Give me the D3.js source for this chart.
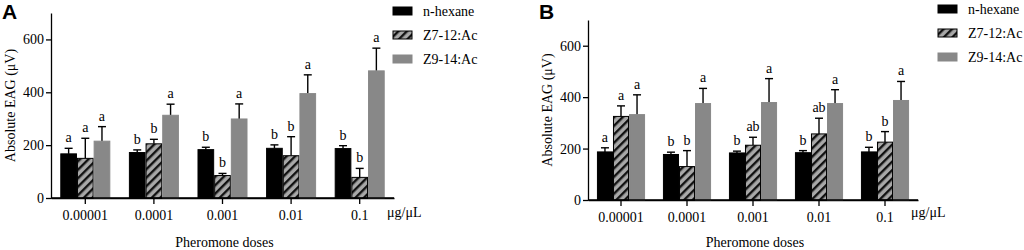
<!DOCTYPE html>
<html>
<head>
<meta charset="utf-8">
<script src="https://cdn.jsdelivr.net/npm/d3@7"></script>
<style>
  body { margin: 0; background: #fff; }
</style>
</head>
<body>
<svg id="chart" width="1024" height="250"></svg>
<script>
// doses on the x axis
const doses = ["0.00001", "0.0001", "0.001", "0.01", "0.1"];
const seriesNames = ["n-hexane", "Z7-12:Ac", "Z9-14:Ac"];
const yTicks = [0, 200, 400, 600];

// panel A: means, error tops, letters
const meanA = [
  [167, 172, 183, 188, 187],
  [150, 205, 85, 160, 78],
  [215, 313, 299, 395, 481]
];
const errA = [
  [188, 182, 192, 201, 198],
  [226, 222, 93, 232, 112],
  [270, 355, 356, 466, 567]
];
const letA = [
  ["a", "b", "b", "b", "b"],
  ["a", "b", "b", "b", "b"],
  ["a", "a", "a", "a", "a"]
];

// panel B
const meanB = [
  [187, 177, 183, 184, 187],
  [325, 130, 213, 257, 225],
  [332, 375, 379, 375, 387]
];
const errB = [
  [203, 186, 190, 192, 205],
  [366, 192, 244, 318, 266],
  [409, 434, 472, 429, 461]
];
const letB = [
  ["a", "b", "b", "b", "b"],
  ["a", "b", "ab", "ab", "b"],
  ["a", "a", "a", "a", "a"]
];

const SERIF = "'Liberation Serif', 'Times New Roman', serif";
const svg = d3.select("#chart");

// hatch pattern for the second series
const defs = svg.append("defs");
const pat = defs.append("pattern")
  .attr("id", "hatch")
  .attr("patternUnits", "userSpaceOnUse")
  .attr("width", 6).attr("height", 6)
  .attr("patternTransform", "rotate(45)");
pat.append("rect").attr("width", 6).attr("height", 6).attr("fill", "#a8a8a8");
pat.append("rect").attr("width", 2.4).attr("height", 6).attr("fill", "#111");

const fills = ["#000", "url(#hatch)", "#888888"];
const strokes = ["#000", "#000", "#888888"];

function txt(sel, size) {
  return sel.style("font-family", SERIF).style("font-size", size + "px").attr("fill", "#000");
}

function panel(opt) {
  const { label, left, top, bottom, right, means, errs, letters, legX, legY } = opt;
  const g = svg.append("g");

  const x = d3.scaleBand().domain(doses).range([left, right]);
  const y = d3.scaleLinear().domain([0, 700]).range([bottom, top]);
  const bw = x.step() * 0.243;

  // y axis
  const yAxis = g.append("g")
    .attr("transform", `translate(${left},0)`)
    .call(d3.axisLeft(y).tickValues(yTicks).tickSize(5).tickPadding(2).tickSizeOuter(0));
  yAxis.select(".domain").attr("stroke", "#000").attr("stroke-width", 1.3);
  yAxis.selectAll(".tick line").attr("stroke-width", 1.3);
  txt(yAxis.selectAll("text"), 14);

  // x axis
  const xAxis = g.append("g")
    .attr("transform", `translate(0,${bottom})`)
    .call(d3.axisBottom(x).tickSize(6).tickPadding(6).tickSizeOuter(0));
  xAxis.select(".domain").attr("stroke", "#000").attr("stroke-width", 1.3);
  xAxis.selectAll(".tick line").attr("stroke-width", 1.3);
  txt(xAxis.selectAll("text"), 14);

  // bars
  seriesNames.forEach((s, si) => {
    const rows = doses.map((d, i) => ({ d, v: means[si][i], e: errs[si][i], l: letters[si][i] }));
    const cx = d => x(d) + x.bandwidth() / 2 + (si - 1) * bw;

    g.selectAll(null).data(rows).join("line")
      .attr("x1", d => cx(d.d)).attr("x2", d => cx(d.d))
      .attr("y1", d => y(d.v)).attr("y2", d => y(d.e))
      .attr("stroke", "#000").attr("stroke-width", 1.4);
    g.selectAll(null).data(rows).join("line")
      .attr("x1", d => cx(d.d) - 4).attr("x2", d => cx(d.d) + 4)
      .attr("y1", d => y(d.e)).attr("y2", d => y(d.e))
      .attr("stroke", "#000").attr("stroke-width", 1.4);

    g.selectAll(null).data(rows).join("rect")
      .attr("x", d => cx(d.d) - bw / 2 + 0.5)
      .attr("width", bw - 1)
      .attr("y", d => y(d.v))
      .attr("height", d => bottom - y(d.v))
      .attr("fill", fills[si])
      .attr("stroke", strokes[si])
      .attr("stroke-width", 1);

    txt(g.selectAll(null).data(rows).join("text"), 14)
      .attr("x", d => cx(d.d))
      .attr("y", d => y(d.e) - 6)
      .attr("text-anchor", "middle")
      .text(d => d.l);
  });

  // redraw baseline on top
  g.append("line").attr("x1", left).attr("x2", right).attr("y1", bottom).attr("y2", bottom)
    .attr("stroke", "#000").attr("stroke-width", 1.3);

  // y title
  txt(g.append("text"), 14)
    .attr("transform", `translate(${left - 36},${(top + bottom) / 2}) rotate(-90)`)
    .attr("text-anchor", "middle")
    .text("Absolute EAG (μV)");

  // x title
  txt(g.append("text"), 14)
    .attr("x", (left + right) / 2 + 2).attr("y", 247)
    .attr("text-anchor", "middle")
    .text("Pheromone doses");

  txt(g.append("text"), 14)
    .attr("x", right - 7).attr("y", 217)
    .text("μg/μL");

  // panel letter
  g.append("text")
    .attr("x", left - 49).attr("y", 19)
    .style("font-family", "'Liberation Sans', Arial, sans-serif")
    .style("font-weight", "bold")
    .style("font-size", "21px")
    .text(label);

  // legend
  const leg = g.selectAll(".leg").data(seriesNames).join("g")
    .attr("transform", (d, i) => `translate(${legX},${legY + i * 24})`);
  leg.append("rect")
    .attr("x", 0).attr("y", -4).attr("width", 19).attr("height", 8)
    .attr("fill", (d, i) => fills[i])
    .attr("stroke", (d, i) => strokes[i]).attr("stroke-width", 1);
  txt(leg.append("text"), 14)
    .attr("x", 30).attr("y", 5)
    .text(d => d);
}

panel({ label: "A", left: 51, right: 394, top: 13, bottom: 198,
  means: meanA, errs: errA, letters: letA, legX: 393, legY: 11 });
panel({ label: "B", left: 588, right: 918, top: 20, bottom: 200,
  means: meanB, errs: errB, letters: letB, legX: 938, legY: 9 });
</script>
</body>
</html>
